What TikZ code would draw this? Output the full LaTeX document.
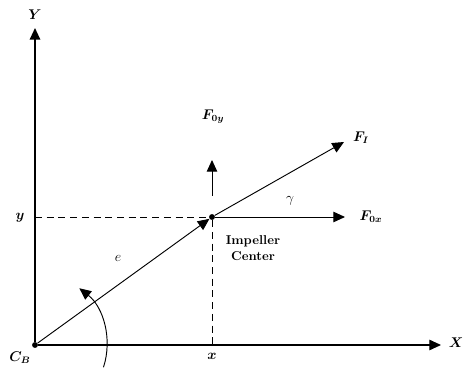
\documentclass[11pt,tikz,border=0pt]{standalone}
\usepackage{amsmath}
\usetikzlibrary{arrows.meta,positioning,calc}

\begin{document}
\begin{tikzpicture}[
  x=0.03cm, y=-0.03cm,
  >={Triangle[length=10pt,width=9pt]},
  axisline/.style={
    ->,
    line width=1.3pt
  },
  forcearrow/.style={
    ->,
    line width=0.8pt
  },
  guideline/.style={
    line width=0.8pt,
    dash pattern=on 6pt off 4pt
  },
  pointdot/.style={
    circle,
    fill=black,
    inner sep=0pt,
    minimum size=5pt
  },
  mathlabel/.style={
    font=\large\bfseries\boldmath,
    inner sep=1pt
  },
  thinlabel/.style={
    font=\large,
    inner sep=1pt
  }
]
  \useasboundingbox (0,0) rectangle (465,369);

  % -------------------------------------------------------------
  % POINTS AND FREE ENDS
  % -------------------------------------------------------------
  \node[pointdot] (cb) at (35,345) {};
  \node[pointdot] (ic) at (212,217) {};

  \coordinate (ytip) at (35,28);
  \coordinate (xtip) at (441,345);
  \coordinate (fitip) at (344,142);
  \coordinate (fytail) at (212,196);
  \coordinate (fytip) at (212,160);
  \coordinate (fxtip) at (345,217);
  \coordinate (yfoot) at (35,217);
  \coordinate (xfoot) at (212,345);

  % -------------------------------------------------------------
  % AXES
  % -------------------------------------------------------------
  \draw[axisline] (cb) -- (ytip);
  \draw[axisline, line width=0.9pt] (cb) -- (xtip);

  \node[mathlabel] (ylab) at (35,15) {$Y$};
  \node[mathlabel] (xlab) at (456,343) {$X$};
  \node[mathlabel] (cblab) at (20,358) {$C_B$};

  % -------------------------------------------------------------
  % IMPELLER CENTER AND GUIDES
  % -------------------------------------------------------------
  \draw[guideline] (yfoot) -- (ic);
  \draw[guideline] (ic) -- (xfoot);

  \node[mathlabel] (ylabel) at (20,218) {$y$};
  \node[mathlabel] (xlabel) at (212,356) {$x$};

  \draw[forcearrow] (cb) -- (ic);
  \draw[forcearrow] (ic) -- (fitip);
  \draw[forcearrow] (fytail) -- (fytip);
  \draw[forcearrow] (ic) -- (fxtip);

  \node[thinlabel] (elab) at (118,258) {$e$};
  \node[thinlabel] (glab) at (290,201) {$\gamma$};
  \node[mathlabel] (filab) at (361,138) {$F_I$};
  \node[mathlabel] (fylab) at (213,117) {$F_{0y}$};
  \node[mathlabel] (fxlab) at (371,217) {$F_{0x}$};

  \node[font=\bfseries, align=center, inner sep=0pt] (iclab) at (253,248)
    {Impeller\\Center};

  % angle arc
  \draw[forcearrow] (cb) ++(18:72) arc[start angle=18, end angle=-52, radius=72];

\end{tikzpicture}
\end{document}
